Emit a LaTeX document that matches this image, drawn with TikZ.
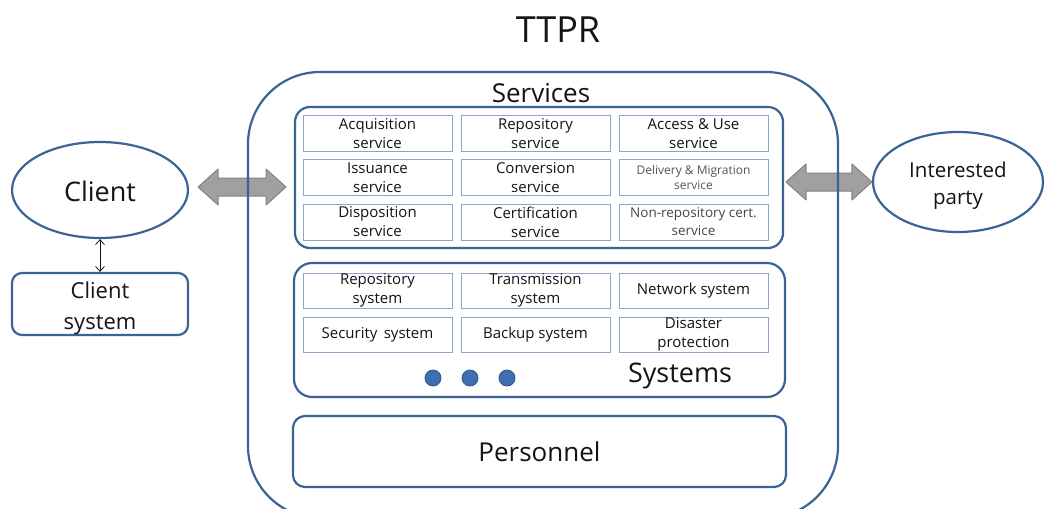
\documentclass[tikz,border=0pt]{standalone}
\usepackage{fontspec}
\setmainfont{Open Sans}
\usetikzlibrary{calc,arrows.meta,shapes.geometric}
\definecolor{bblue}{RGB}{58,99,150}
\definecolor{cellb}{RGB}{140,165,200}
\definecolor{agray}{RGB}{160,160,160}
\definecolor{agrayd}{RGB}{130,130,130}
\definecolor{dotfill}{RGB}{62,112,175}
\definecolor{dotdraw}{RGB}{45,85,140}
\definecolor{txt}{RGB}{20,20,20}
\newcommand{\fs}[2]{\fontsize{#1}{#2}\selectfont}
\begin{document}
\begin{tikzpicture}[x=1pt,y=-1pt,
  group/.style={draw=bblue, line width=2.2pt, fill=white, inner sep=0pt},
  cell/.style={draw=cellb, line width=0.9pt, fill=white, minimum width=149pt, minimum height=36pt, inner sep=0pt, align=center, text=txt, font=\fs{15}{19}},
  lbl/.style={inner sep=0pt, text=txt, align=center},
  bigarrow/.style={fill=agray, draw=agrayd, line width=1pt, line join=round},
  dot/.style={circle, fill=dotfill, draw=dotdraw, line width=0.8pt, minimum size=16pt, inner sep=0pt}
]
\useasboundingbox (0,0) rectangle (1045,509);
\clip (0,0) rectangle (1045,509);

% title
\node[lbl, font=\fs{36}{40}] (title) at (558,30) {TTPR};

% client side
\node[group, ellipse, minimum width=176pt, minimum height=96pt] (client) at (100,190) {};
\node[lbl, font=\fs{27}{30}] (client-txt) at (100,191) {Client};
\node[group, rounded corners=10pt, minimum width=176pt, minimum height=62pt] (clientsys) at (100,304) {};
\node[lbl, font=\fs{22}{31}] (clientsys-txt) at (100,308) {Client\\system};
\draw[line width=0.8pt, txt, {Straight Barb[length=5pt,width=9pt]}-{Straight Barb[length=5pt,width=9pt]}] (client.south) -- (clientsys.north);

% interested party
\node[group, ellipse, minimum width=170pt, minimum height=100pt] (party) at (958,182) {};
\node[lbl, font=\fs{20.5}{27}] (party-txt) at (958,185.5) {Interested\\party};

% services box edges (for arrow ends)
\coordinate (servW) at (295,187);
\coordinate (servE) at (784,182);

% big gray arrows (drawn below the outer frame)
\coordinate (la) at ($(client.east)+(9,-3)$);
\coordinate (lb) at ($(servW)+(-9,0)$);
\draw[bigarrow] (la) -- ++(20,-18) -- ++(0,9) -- ($(lb)+(-20,-9)$) -- ++(0,-9) -- (lb) -- ++(-20,18) -- ++(0,-9) -- ($(la)+(20,9)$) -- ++(0,9) -- cycle;
\coordinate (ra) at ($(servE)+(2,0)$);
\coordinate (rb) at (party.west);
\draw[bigarrow] (ra) -- ++(20,-18) -- ++(0,9) -- ($(rb)+(-20,-9)$) -- ++(0,-9) -- (rb) -- ++(-20,18) -- ++(0,-9) -- ($(ra)+(20,9)$) -- ++(0,9) -- cycle;

% outer frame
\draw[draw=bblue, line width=2.2pt, rounded corners=72pt] (248,72) rectangle (838,518);
\node[lbl, font=\fs{26}{30}] (services-lbl) at (541,93) {Services};

% services group
\node[group, rounded corners=15pt, minimum width=488pt, minimum height=141pt] (services) at (539,177.5) {};
\node[cell] (acq) at (377.5,133.5) {Acquisition\\service};
\node[cell] (rep) at (535.5,133.5) {Repository\\service};
\node[cell] (acc) at (693.5,133.5) {Access \& Use\\service};
\node[cell] (iss) at (377.5,177.5) {Issuance\\service};
\node[cell] (con) at (535.5,177.5) {Conversion\\service};
\node[cell, font=\fs{12}{15}, text={rgb,255:red,85;green,85;blue,85}] (del) at (693.5,177.5) {Delivery \& Migration\\service};
\node[cell, font=\fs{13.5}{18}, text={rgb,255:red,70;green,70;blue,70}] (non) at (693.5,222) {Non-repository cert.\\service};
\node[cell] (dis) at (377.5,222) {Disposition\\service};
\node[cell] (cer) at (535.5,222) {Certification\\service};

% systems group
\node[group, rounded corners=18pt, minimum width=491pt, minimum height=134pt] (systems) at (539.5,330) {};
\node[cell, minimum height=35pt] (rsys) at (377.5,290.5) {Repository\\system};
\node[cell, minimum height=35pt] (tsys) at (535.5,290.5) {Transmission\\system};
\node[cell, minimum height=35pt] (nsys) at (693.5,290.5) {Network system};
\node[cell, minimum height=35pt] (ssys) at (377.5,334.5) {Security\, system};
\node[cell, minimum height=35pt] (bsys) at (535.5,334.5) {Backup system};
\node[cell, minimum height=35pt] (dsys) at (693.5,334.5) {Disaster\\protection};
\node[dot] (d1) at (433,378) {};
\node[dot] (d2) at (470,378) {};
\node[dot] (d3) at (507,378) {};
\node[lbl, font=\fs{27}{30}] (systems-lbl) at (680,376) {Systems};

% personnel
\node[group, rounded corners=12pt, minimum width=493pt, minimum height=71pt, font=\fs{26}{30}, text=txt] (personnel) at (539.5,451.5) {Personnel};
\end{tikzpicture}
\end{document}
